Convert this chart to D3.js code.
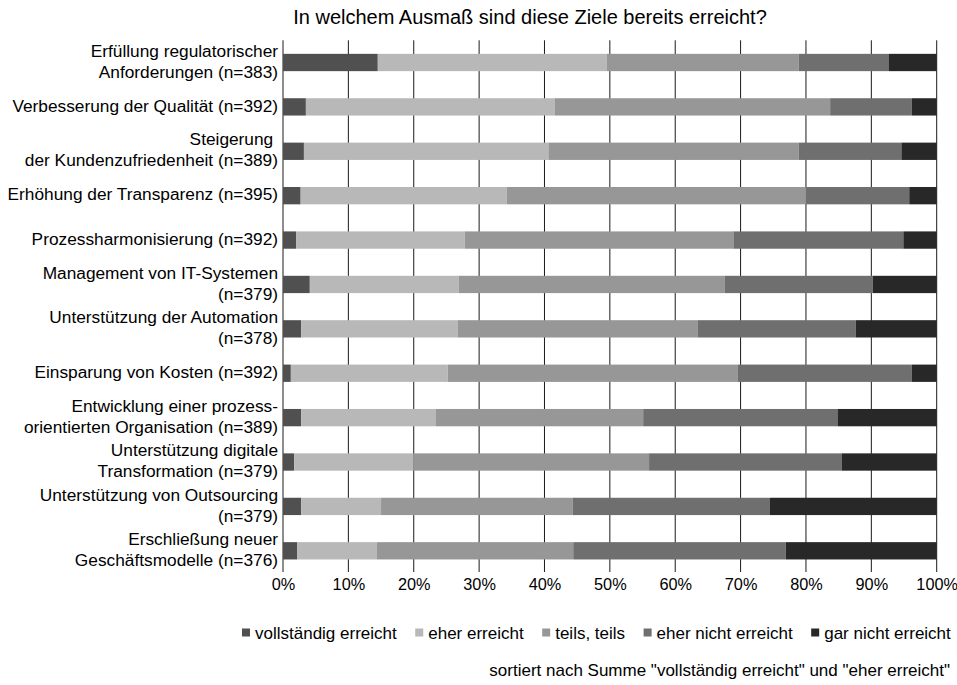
<!DOCTYPE html>
<html lang="de">
<head>
<meta charset="utf-8">
<script src="https://cdn.jsdelivr.net/npm/d3@7"></script>
<style>
  html, body { margin: 0; padding: 0; background: #fff; }
  svg { display: block; font-family: "Liberation Sans", Arial, sans-serif; }
</style>
</head>
<body>
<svg id="chart" width="957" height="685"></svg>
<script>
// Goals (top to bottom), "\n" marks a manual line break in the axis label
const categories = [
  "Erfüllung regulatorischer\nAnforderungen (n=383)",
  "Verbesserung der Qualität (n=392)",
  "Steigerung\u00a0\nder Kundenzufriedenheit (n=389)",
  "Erhöhung der Transparenz (n=395)",
  "Prozessharmonisierung (n=392)",
  "Management von IT-Systemen\n(n=379)",
  "Unterstützung der Automation\n(n=378)",
  "Einsparung von Kosten (n=392)",
  "Entwicklung einer prozess-\norientierten Organisation (n=389)",
  "Unterstützung digitale\nTransformation (n=379)",
  "Unterstützung von Outsourcing\n(n=379)",
  "Erschließung neuer\nGeschäftsmodelle (n=376)"
];

const seriesNames = ["vollständig erreicht", "eher erreicht", "teils, teils", "eher nicht erreicht", "gar nicht erreicht"];

// Share of answers in percent, one array per answer category
const vollstaendigErreicht = [14.5, 3.5, 3.2, 2.7, 2.0, 4.1, 2.8, 1.2, 2.8, 1.7, 2.8, 2.2];
const eherErreicht         = [35.0, 38.1, 37.4, 31.5, 25.8, 22.8, 23.9, 24.0, 20.6, 18.2, 12.2, 12.1];
const teilsTeils           = [29.4, 42.1, 38.3, 45.8, 41.1, 40.7, 36.7, 44.4, 31.7, 36.1, 29.3, 30.1];
const eherNichtErreicht    = [13.8, 12.5, 15.7, 15.8, 26.0, 22.6, 24.2, 26.6, 29.8, 29.5, 30.2, 32.5];
const garNichtErreicht     = [7.3, 3.8, 5.4, 4.2, 5.1, 9.8, 12.4, 3.8, 15.1, 14.5, 25.5, 23.1];

const tickValues = [0, 10, 20, 30, 40, 50, 60, 70, 80, 90, 100];
const tickLabels = ["0%", "10%", "20%", "30%", "40%", "50%", "60%", "70%", "80%", "90%", "100%"];

const titleText = "In welchem Ausmaß sind diese Ziele bereits erreicht?";
const noteText = "sortiert nach Summe \"vollständig erreicht\" und \"eher erreicht\"";

const colors = ["#505050", "#b8b8b8", "#979797", "#6f6f6f", "#282828"];

const valuesBySeries = [vollstaendigErreicht, eherErreicht, teilsTeils, eherNichtErreicht, garNichtErreicht];
const rows = categories.map((c, i) => {
  const r = { category: c };
  seriesNames.forEach((s, k) => { r[s] = valuesBySeries[k][i]; });
  return r;
});
const stacked = d3.stack().keys(seriesNames)(rows);

const svg = d3.select("#chart");
const plot = { left: 283, right: 936.7, top: 40.3, bottom: 573 };

const x = d3.scaleLinear().domain([0, 100]).range([plot.left, plot.right]);
const y = d3.scaleBand().domain(categories).range([plot.top, plot.bottom])
  .paddingInner(0.61).paddingOuter(0.305);
const color = d3.scaleOrdinal().domain(seriesNames).range(colors);

// Title
svg.append("text")
  .attr("x", 530).attr("y", 24)
  .attr("text-anchor", "middle")
  .attr("font-size", 20)
  .attr("fill", "#000")
  .text(titleText);

// Vertical gridlines (incl. 0% axis line and 100% line)
svg.append("g")
  .selectAll("line")
  .data(tickValues)
  .join("line")
  .attr("x1", d => x(d)).attr("x2", d => x(d))
  .attr("y1", plot.top).attr("y2", plot.bottom - 1)
  .attr("stroke", "#1a1a1a")
  .attr("stroke-width", 1);

// Stacked bars
svg.append("g")
  .selectAll("g")
  .data(stacked)
  .join("g")
  .attr("fill", d => color(d.key))
  .selectAll("rect")
  .data(d => d)
  .join("rect")
  .attr("x", d => x(d[0]))
  .attr("width", d => x(d[1]) - x(d[0]))
  .attr("y", d => y(d.data.category))
  .attr("height", y.bandwidth());

// X axis tick labels
const xAxis = d3.axisBottom(x)
  .tickValues(tickValues)
  .tickFormat((d, i) => tickLabels[i])
  .tickSize(0)
  .tickPadding(0);
const gx = svg.append("g")
  .attr("transform", `translate(0,${plot.bottom})`)
  .call(xAxis);
gx.select(".domain").remove();
gx.selectAll("text")
  .attr("font-family", "Liberation Sans, Arial, sans-serif")
  .attr("font-size", 16.3)
  .attr("fill", "#000")
  .attr("dy", "0")
  .attr("y", 17);

// Y axis category labels, wrapped on "\n"
const lineHeight = 21;
const gy = svg.append("g");
categories.forEach(c => {
  const lines = c.split("\n");
  const cy = y(c) + y.bandwidth() / 2;
  const t = gy.append("text")
    .attr("text-anchor", "end")
    .attr("font-size", 17.3)
    .attr("fill", "#000")
    .style("white-space", "pre");
  const first = cy + 4.7 - (lines.length - 1) * lineHeight / 2;
  lines.forEach((ln, j) => {
    t.append("tspan")
      .attr("x", 278)
      .attr("y", first + j * lineHeight)
      .text(ln);
  });
});

// Legend
const legend = svg.append("g");
let lx = 242;
const legendBaseline = 639;
seriesNames.forEach(name => {
  legend.append("rect")
    .attr("x", lx).attr("y", legendBaseline - 10.5)
    .attr("width", 8).attr("height", 8)
    .attr("fill", color(name));
  const t = legend.append("text")
    .attr("x", lx + 13).attr("y", legendBaseline)
    .attr("font-size", 17)
    .attr("fill", "#000")
    .text(name);
  lx += 13 + t.node().getComputedTextLength() + 18.5;
});

// Sorting note
svg.append("text")
  .attr("x", 950).attr("y", 676)
  .attr("text-anchor", "end")
  .attr("font-size", 17)
  .attr("fill", "#000")
  .text(noteText);
</script>
</body>
</html>
